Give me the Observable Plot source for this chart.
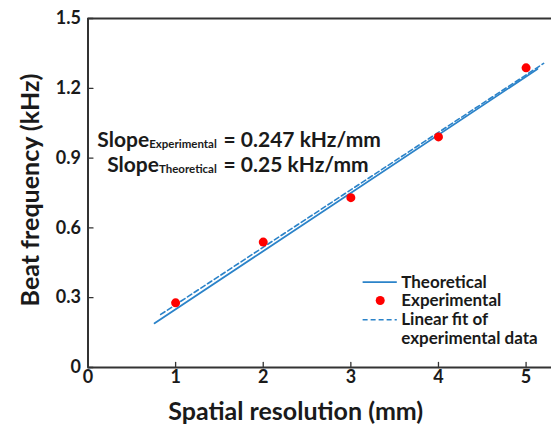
<!DOCTYPE html>
<html>
<head>
<meta charset="utf-8">
<script src="https://cdn.jsdelivr.net/npm/d3@7"></script>
<script src="https://cdn.jsdelivr.net/npm/@observablehq/plot@0.6"></script>
<style>
  html, body { margin: 0; padding: 0; background: #fff; }
  #chart svg { display: block; }
</style>
</head>
<body>
<div id="chart"></div>
<script>
// ---- data ----
const xTicks = [0, 1, 2, 3, 4, 5];
const yTicks = [0, 0.3, 0.6, 0.9, 1.2, 1.5];
const expX = [1, 2, 3, 4, 5];
const expY = [0.278, 0.539, 0.730, 0.991, 1.288];
const theoX = [0.76, 5.13];
const theoY = [0.19, 1.283];
const fitX = [0.83, 5.2];
const fitY = [0.228, 1.307];
const slopeSubs = ["Experimental", "Theoretical"];
const slopeValues = ["= 0.247 kHz/mm", "= 0.25 kHz/mm"];
const legendLabels = ["Theoretical", "Experimental", "Linear fit of", "experimental data"];
const xTitle = "Spatial resolution (mm)";
const yTitle = "Beat frequency (kHz)";

const blue = "#2b83c9";
const red = "#ff0000";
const ink = "#1a1a1a";
const axisColor = "#333333";

const expData = expX.map((x, i) => ({x, y: expY[i]}));
const theoData = theoX.map((x, i) => ({x, y: theoY[i]}));
const fitData = fitX.map((x, i) => ({x, y: fitY[i]}));
const slopeRowY = [0.977, 0.87];
const slopeRows = slopeSubs.map((s, i) => ({sub: s, value: slopeValues[i], y: slopeRowY[i]}));
const legendRowY = [0.367, 0.288, 0.205, 0.124];
const legendRows = legendLabels.map((t, i) => ({t, y: legendRowY[i]}));

const tickUp = {draw(c, l) { c.moveTo(0, 0); c.lineTo(0, -l); }};

const plot = Plot.plot({
  width: 551,
  height: 424,
  marginLeft: 87.5,
  marginRight: 0,
  marginTop: 18,
  marginBottom: 57,
  x: {domain: [0, 5.29]},
  y: {domain: [0, 1.5]},
  style: {fontFamily: "Lato, 'Open Sans', sans-serif", color: ink, background: "#fff"},
  marks: [
    Plot.axisX(xTicks, {tickSize: 0, tickPadding: 3, fontSize: 18, fontWeight: "bold", label: null, fill: ink}),
    Plot.axisY(yTicks, {tickSize: 0, tickPadding: 7, fontSize: 18, fontWeight: "bold", label: null, fill: ink, tickFormat: d => d3.format("")(d)}),
    Plot.vector(xTicks, {x: d => d, frameAnchor: "bottom", length: 5, anchor: "start", shape: tickUp, stroke: axisColor, strokeWidth: 1.3}),
    Plot.vector(yTicks, {y: d => d, frameAnchor: "left", length: 5, rotate: 90, anchor: "start", shape: tickUp, stroke: axisColor, strokeWidth: 1.3}),
    Plot.ruleY([0, 1.5], {stroke: axisColor, strokeWidth: 2}),
    Plot.ruleX([0], {stroke: axisColor, strokeWidth: 2}),
    Plot.line(theoData, {x: "x", y: "y", stroke: blue, strokeWidth: 1.8}),
    Plot.line(fitData, {x: "x", y: "y", stroke: blue, strokeWidth: 1.6, strokeDasharray: "5,3"}),
    Plot.dot(expData, {x: "x", y: "y", r: 4.5, fill: red, stroke: "none"}),
    // slope annotations
    Plot.text(slopeRows, {x: () => 1.47, y: "y", text: () => "Slope", textAnchor: "end", fontSize: 21, fontWeight: "bold", fill: ink}),
    Plot.text(slopeRows, {x: () => 1.547, y: "y", text: "value", textAnchor: "start", fontSize: 21, fontWeight: "bold", fill: ink}),
    // legend
    Plot.ruleY([legendRowY[0]], {x1: 3.14, x2: 3.53, stroke: blue, strokeWidth: 1.8}),
    Plot.dot([legendRowY[1]], {x: () => 3.335, y: d => d, r: 4.5, fill: red, stroke: "none"}),
    Plot.ruleY([legendRowY[2]], {x1: 3.14, x2: 3.53, stroke: blue, strokeWidth: 1.6, strokeDasharray: "5,3"}),
    Plot.text(legendRows, {x: () => 3.575, y: "y", text: "t", textAnchor: "start", fontSize: 17, fontWeight: "bold", fill: ink}),
    // axis titles
    Plot.text([xTitle], {frameAnchor: "bottom", text: d => d, textAnchor: "middle", lineAnchor: "middle", dx: -24, dy: 44, fontSize: 25, fontWeight: "bold", fill: ink}),
    Plot.text([yTitle], {frameAnchor: "left", text: d => d, textAnchor: "middle", lineAnchor: "middle", rotate: -90, dx: -57, dy: -3, fontSize: 25, fontWeight: "bold", fill: ink})
  ]
});

// rich text for slope labels (subscripts)
const svg = d3.select(plot);
svg.selectAll("text").filter(function() { return this.textContent === "Slope"; }).each(function(_, i) {
  const t = d3.select(this);
  t.text(null);
  t.append("tspan").text("Slope");
  t.append("tspan").attr("font-size", 11.5).attr("dy", 1).text(slopeSubs[i]);
});

document.getElementById("chart").appendChild(plot);
</script>
</body>
</html>
